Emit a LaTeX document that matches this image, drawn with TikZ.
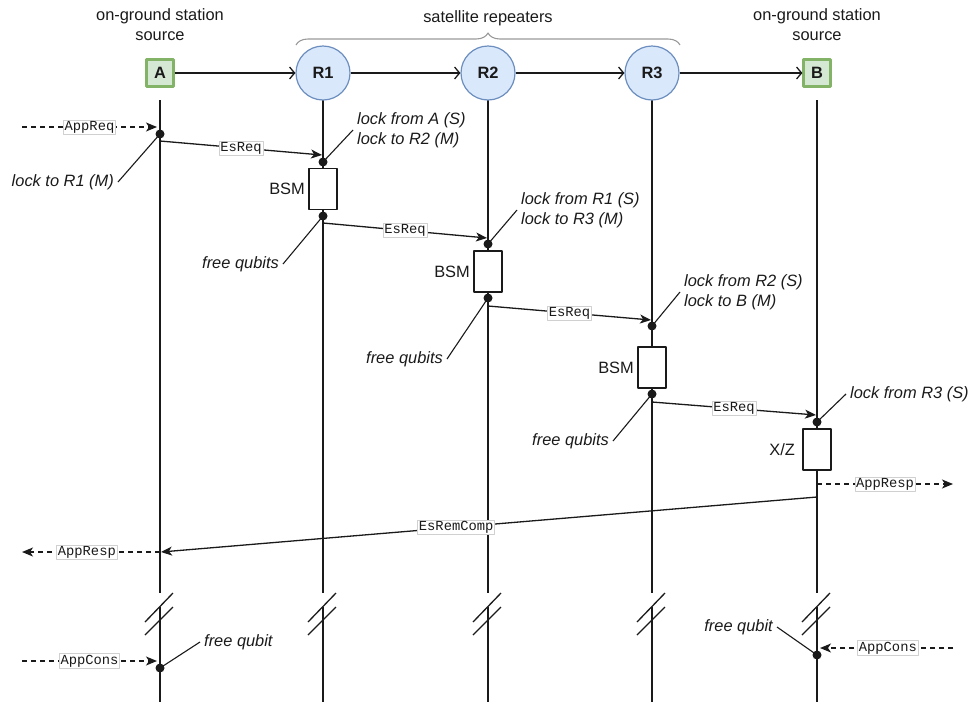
\documentclass[tikz,border=0pt]{standalone}
\usepackage{fontspec}
\setmainfont{Liberation Sans}
\setmonofont{Liberation Mono}
\usetikzlibrary{arrows.meta,decorations.pathreplacing}
\definecolor{gfill}{HTML}{D5E8D4}
\definecolor{gline}{HTML}{82B366}
\definecolor{bfill}{HTML}{DAE8FC}
\definecolor{bline}{HTML}{6C8EBF}
\definecolor{ink}{HTML}{1A1A1A}
\definecolor{tagline}{HTML}{D0D0D0}
\definecolor{bracec}{HTML}{9A9A9A}
\begin{document}
\begin{tikzpicture}[x=1pt,y=-1pt, line join=round,
  base/.style={font=\fontsize{16.4}{20}\selectfont, text=ink},
  station/.style={draw=gline, fill=gfill, line width=2.2pt, minimum size=27pt, inner sep=0pt, text=ink, font=\fontsize{16.4}{20}\selectfont\bfseries},
  rep/.style={circle, draw=bline, fill=bfill, line width=1.2pt, minimum size=54pt, inner sep=0pt, text=ink, font=\fontsize{16.4}{20}\selectfont\bfseries},
  head/.style={base, align=center},
  note/.style={text=ink, font=\fontsize{16.4}{20}\selectfont\itshape, align=left, inner sep=4pt},
  tag/.style={font=\ttfamily\fontsize{13.8}{15}\selectfont, text=ink, fill=white, draw=tagline, line width=0.6pt, inner sep=1.2pt, solid},
  proc/.style={draw=ink, fill=white, line width=1.3pt, minimum width=28pt, minimum height=41pt, inner sep=0pt},
  dot/.style={circle, fill=ink, inner sep=0pt, minimum size=9pt},
  life/.style={draw=ink, line width=1.3pt},
  link/.style={draw=ink, line width=1.3pt, -{Straight Barb[length=5pt,width=12pt,line width=1.3pt]}},
  msg/.style={draw=ink, line width=1.3pt, -{Stealth[length=11pt,width=9pt,inset=3pt]}},
  appmsg/.style={msg, dash pattern=on 5pt off 4pt},
  callout/.style={draw=ink, line width=1.1pt},
  brk/.style={draw=ink, line width=1.3pt}
]
\useasboundingbox (0,0) rectangle (971,702);

% headers
\node[head] (hA) at (160,25) {on-ground station\\source};
\node[head] (hB) at (817,25) {on-ground station\\source};
\node[head] (hS) at (488,18) {satellite repeaters};
\draw[bracec, line width=1.1pt, decorate, decoration={brace, amplitude=12pt}] (296,45) -- (680,45);

% lifelines with breaks
\foreach \n/\x in {A/160,R1/323,R2/488,R3/652,B/817} {
  \coordinate (top\n) at (\x,100);
  \coordinate (cut\n) at (\x,593);
  \coordinate (res\n) at (\x,607);
  \coordinate (end\n) at (\x,702);
  \draw[life] (top\n) -- (cut\n) (res\n) -- (end\n);
  \draw[brk] (\x-15,622) -- (\x+13,593);
  \draw[brk] (\x-15,635) -- (\x+13,607);
}

% top nodes
\node[station] (A) at (160,73) {A};
\node[rep] (R1) at (323,73) {R1};
\node[rep] (R2) at (488,73) {R2};
\node[rep] (R3) at (652,73) {R3};
\node[station] (B) at (817,73) {B};
\draw[link] (A) -- (R1);
\draw[link] (R1) -- (R2);
\draw[link] (R2) -- (R3);
\draw[link] (R3) -- (B);

% process boxes
\node[proc] (bR1) at (323,189) {};
\node[proc] (bR2) at (488,271.5) {};
\node[proc] (bR3) at (652,367.5) {};
\node[proc] (bB) at (817,449.5) {};
\node[base, anchor=east] (lR1) at (bR1.west) {BSM};
\node[base, anchor=east] (lR2) at (bR2.west) {BSM};
\node[base, anchor=east] (lR3) at (bR3.west) {BSM};
\node[base, anchor=east, xshift=-4pt] (lB) at (bB.west) {X/Z};

% dots
\node[dot] (dA1) at (160,134) {};
\node[dot] (dR1a) at (323,162) {};
\node[dot] (dR1b) at (323,216) {};
\node[dot] (dR2a) at (488,244) {};
\node[dot] (dR2b) at (488,298) {};
\node[dot] (dR3a) at (652,326) {};
\node[dot] (dR3b) at (652,394) {};
\node[dot] (dB1) at (817,422) {};
\node[dot] (dA2) at (160,668) {};
\node[dot] (dB2) at (817,655) {};

% message end points
\coordinate (qL) at (22,127);   \coordinate (qA) at (157,127);
\coordinate (s1) at (160,141);  \coordinate (e1) at (322,155);
\coordinate (s2) at (323,223);  \coordinate (e2) at (487,238);
\coordinate (s3) at (488,306);  \coordinate (e3) at (651,320);
\coordinate (s4) at (652,402);  \coordinate (e4) at (816,415);
\coordinate (rB) at (817,484);  \coordinate (rR) at (953,484);
\coordinate (cB) at (817,497);  \coordinate (cA) at (161,552);
\coordinate (pA) at (160,552);  \coordinate (pL) at (22,552);
\coordinate (uL) at (22,661);   \coordinate (uA) at (157,661);
\coordinate (vR) at (953,648);  \coordinate (vB) at (820,648);

\draw[appmsg] (qL) -- node[tag] {AppReq} (qA);
\draw[msg] (s1) -- node[tag] {EsReq} (e1);
\draw[msg] (s2) -- node[tag] {EsReq} (e2);
\draw[msg] (s3) -- node[tag] {EsReq} (e3);
\draw[msg] (s4) -- node[tag] {EsReq} (e4);
\draw[appmsg] (rB) -- node[tag] {AppResp} (rR);
\draw[msg] (cB) -- node[tag, pos=0.55] {EsRemComp} (cA);
\draw[appmsg] (pA) -- node[tag, pos=0.53] {AppResp} (pL);
\draw[appmsg] (uL) -- node[tag] {AppCons} (uA);
\draw[appmsg] (vR) -- node[tag, pos=0.49] {AppCons} (vB);

% callout notes
\node[note, anchor=east] (nA1) at (118,182) {lock to R1 (M)};
\draw[callout] (nA1.east) -- (dA1.center);
\node[note, anchor=west] (nR1a) at (353,130) {lock from A (S)\\lock to R2 (M)};
\draw[callout] (nR1a.west) -- (dR1a.center);
\node[note, anchor=east] (nR1b) at (283,264) {free qubits};
\draw[callout] (nR1b.east) -- (dR1b.center);
\node[note, anchor=west] (nR2a) at (517,210) {lock from R1 (S)\\lock to R3 (M)};
\draw[callout] (nR2a.west) -- (dR2a.center);
\node[note, anchor=east] (nR2b) at (447,359) {free qubits};
\draw[callout] (nR2b.east) -- (dR2b.center);
\node[note, anchor=west] (nR3a) at (680,292) {lock from R2 (S)\\lock to B (M)};
\draw[callout] (nR3a.west) -- (dR3a.center);
\node[note, anchor=east] (nR3b) at (613,441) {free qubits};
\draw[callout] (nR3b.east) -- (dR3b.center);
\node[note, anchor=west] (nB1) at (846,394) {lock from R3 (S)};
\draw[callout] (nB1.west) -- (dB1.center);
\node[note, anchor=west] (nA2) at (200,642) {free qubit};
\draw[callout] (nA2.west) -- (dA2.center);
\node[note, anchor=east] (nB2) at (777,627) {free qubit};
\draw[callout] (nB2.east) -- (dB2.center);
\end{tikzpicture}
\end{document}
